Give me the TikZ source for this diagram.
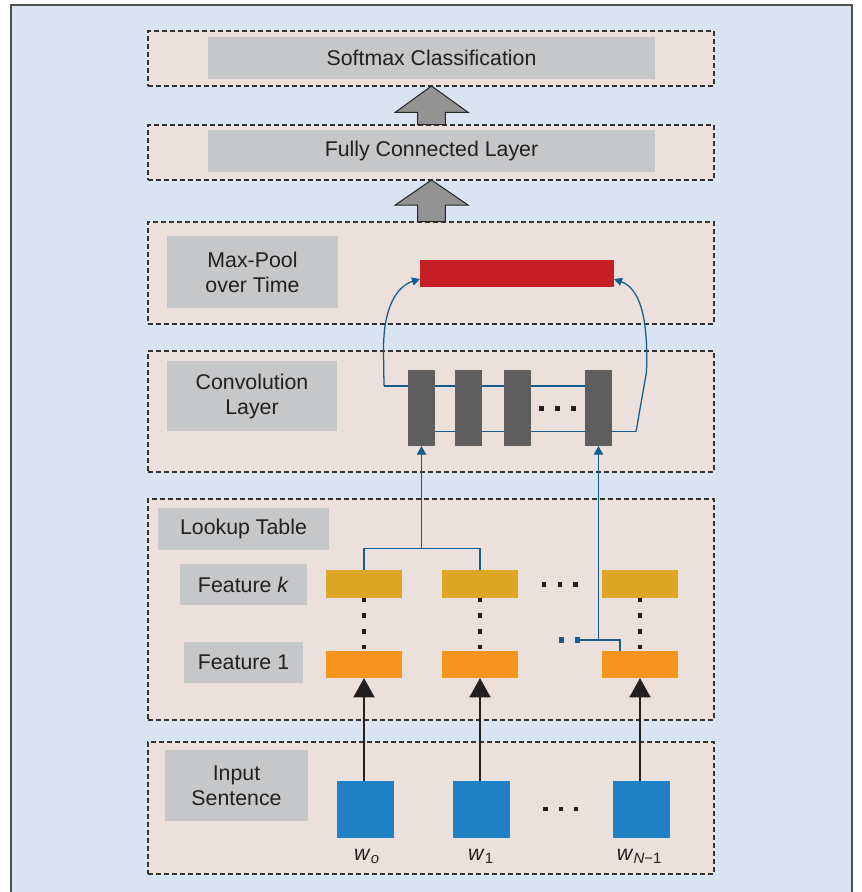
\documentclass[tikz,border=0pt]{standalone}
\usepackage{fontspec}
\setmainfont{Liberation Sans}
\usetikzlibrary{arrows.meta,calc}
\definecolor{bgblue}{HTML}{DAE3F1}
\definecolor{panel}{HTML}{EBE0DB}
\definecolor{lbl}{HTML}{C6C7C9}
\definecolor{redbar}{HTML}{C61E25}
\definecolor{convbar}{HTML}{5E5E5E}
\definecolor{featk}{HTML}{DDA726}
\definecolor{featone}{HTML}{F7941E}
\definecolor{wordsq}{HTML}{1F80C3}
\definecolor{conn}{HTML}{165B8C}
\definecolor{txt}{HTML}{231F20}
\definecolor{bigarrow}{HTML}{939393}
\definecolor{framec}{HTML}{505050}
\tikzset{
  base/.style={rectangle,inner sep=0pt,outer sep=0pt},
  panelbox/.style={base,draw=black!80,fill=panel,dash pattern=on 3.75pt off 2.25pt,line width=0.8pt},
  labelbox/.style={base,fill=lbl,text=txt,font=\fontsize{16}{18.75}\selectfont,align=center},
  redbox/.style={base,fill=redbar},
  convbox/.style={base,fill=convbar},
  fkbox/.style={base,fill=featk},
  fonebox/.style={base,fill=featone},
  wordbox/.style={base,fill=wordsq},
  sqdot/.style={base,fill=txt,minimum size=3.6pt},
  bluedot/.style={base,fill=conn,minimum size=3.8pt},
  wlabel/.style={inner sep=0pt,text=txt,font=\fontsize{16}{18}\selectfont,anchor=base},
  bl/.style={draw=conn,line width=0.95pt},
  blarrow/.style={bl,-{Triangle[width=7pt,length=6.5pt]}},
  curvearrow/.style={bl,-{Triangle[width=6pt,length=6pt]}},
  blackarrow/.style={draw=txt,line width=2.2pt,-{Triangle[width=15.5pt,length=14.5pt]}},
  featdots/.style={draw=txt,line width=3.4pt,dash pattern=on 3.4pt off 8.45pt},
  bigarr/.style={fill=bigarrow,draw=black!85,line width=0.75pt,line join=miter},
}
\newcommand\mkbox[7]{\node[#6,minimum width={(#4-#2)*0.75pt},minimum height={(#5-#3)*0.75pt}] (#1) at ({(#2+#4)/2},{(#3+#5)/2}) {#7};}
\begin{document}
\begin{tikzpicture}[x=0.75pt,y=-0.75pt]
\useasboundingbox (0,0) rectangle (862,892);
\fill[white] (0,0) rectangle (862,892);
\fill[bgblue] (11,5) rectangle (852,900);
\draw[framec,line width=1.5pt] (11,900) -- (11,5) -- (852,5) -- (852,900);

% panels
\mkbox{P1}{148}{31}{714}{86}{panelbox}{}
\mkbox{P2}{148}{125}{714}{180}{panelbox}{}
\mkbox{P3}{148}{222}{714}{324}{panelbox}{}
\mkbox{P4}{148}{351}{714}{472}{panelbox}{}
\mkbox{P5}{148}{499}{714}{720}{panelbox}{}
\mkbox{P6}{148}{742}{714}{874}{panelbox}{}

% big arrows
\draw[bigarr,shift={(P1.south)}] (0.5,0) -- (37,26.3) -- (14.4,26.3) -- (14.4,38.6) -- (-13.5,38.6) -- (-13.5,26.3) -- (-35.7,26.3) -- cycle;
\draw[bigarr,shift={(P2.south)}] (0.5,0) -- (37,25) -- (14.4,25) -- (14.4,41.6) -- (-13.5,41.6) -- (-13.5,25) -- (-35.7,25) -- cycle;

% labels
\mkbox{Lsoft}{208}{37}{655}{79}{labelbox}{Softmax Classification}
\mkbox{Lfc}{208}{130}{655}{172}{labelbox}{Fully Connected Layer}
\mkbox{Lmax}{167}{236}{338}{308}{labelbox}{Max-Pool\\over Time}
\mkbox{Lconv}{167}{361}{337}{431}{labelbox}{Convolution\\Layer}
\mkbox{Llook}{158}{508}{329}{550}{labelbox}{Lookup Table}
\mkbox{Lfk}{180}{564}{307}{605}{labelbox}{Feature \textit{k}}
\mkbox{Lf1}{184}{642}{303}{683}{labelbox}{Feature 1}
\mkbox{Lin}{165}{750}{308}{821}{labelbox}{Input\\Sentence}

% max pool bar
\mkbox{red}{420}{260}{614}{287}{redbox}{}

% convolution connector lines (behind bars)
\coordinate (tl) at (384,386);
\coordinate (br) at (636,431.7);
\mkbox{c1}{408}{370}{435}{446}{convbox}{}
\mkbox{c2}{455}{370}{482}{446}{convbox}{}
\mkbox{c3}{504}{370}{531}{446}{convbox}{}
\mkbox{c4}{585}{370}{612}{446}{convbox}{}
\begin{scope}[on background layer/.style={}]
\end{scope}
\draw[bl] (tl) -- (tl -| c1.west);
\draw[bl] (tl -| c1.east) -- (tl -| c2.west);
\draw[bl] (tl -| c2.east) -- (tl -| c3.west);
\draw[bl] (tl -| c3.east) -- (tl -| c4.west);
\draw[bl] (br -| c1.east) -- (br -| c2.west);
\draw[bl] (br -| c2.east) -- (br -| c3.west);
\draw[bl] (br -| c3.east) -- (br -| c4.west);
\draw[bl] (br -| c4.east) -- (br);
\foreach \i/\x in {1/541.3,2/557.3,3/573.3} \node[sqdot] (cd\i) at (\x,408.7) {};

% curved arrows to max pool
\draw[curvearrow] (tl) -- (383.5,352) .. controls (383,305) and (398,286) .. ([yshift=6pt]red.south west);
\draw[curvearrow] (br) -- (646.5,372) .. controls (648.5,312) and (638,288) .. ([yshift=6pt]red.south east);

% lookup table boxes
\mkbox{yk1}{326}{570}{402}{597.5}{fkbox}{}
\mkbox{yk2}{442}{570}{518}{597.5}{fkbox}{}
\mkbox{yk3}{602}{570}{678}{597.5}{fkbox}{}
\mkbox{yo1}{326}{651}{402}{678}{fonebox}{}
\mkbox{yo2}{442}{651}{518}{678}{fonebox}{}
\mkbox{yo3}{602}{651}{678}{678}{fonebox}{}
\draw[featdots] (yk1.south) -- (yo1.north);
\draw[featdots] (yk2.south) -- (yo2.north);
\draw[featdots] (yk3.south) -- (yo3.north);
\foreach \i/\x in {1/544,2/560,3/575.7} \node[sqdot] (fd\i) at (\x,584.3) {};

% blue connectors lookup -> convolution
\coordinate (bt) at (421.5,548.7);
\draw[bl] (yk1.north) |- (bt) -| (yk2.north);
\draw[blarrow] (c1.south |- bt) -- (c1.south);
\node[bluedot] (bd1) at (561.3,640) {};
\node[bluedot] (bd2) at (577.3,640) {};
\coordinate (jr) at (620,640);
\draw[bl] (bd2.center) -- (jr) -- (jr |- yo3.north);
\draw[blarrow] (c4.south |- jr) -- (c4.south);

% input words
\mkbox{w0}{337}{781}{394}{838}{wordbox}{}
\mkbox{w1}{453}{781}{510}{838}{wordbox}{}
\mkbox{w2}{613}{781}{670}{838}{wordbox}{}
\foreach \i/\x in {1/545.8,2/561,3/576} \node[sqdot] (wd\i) at (\x,809) {};
\draw[blackarrow] (w0.north -| yo1.south) -- (yo1.south);
\draw[blackarrow] (w1.north -| yo2.south) -- (yo2.south);
\draw[blackarrow] (w2.north -| yo3.south) -- (yo3.south);
\node[wlabel] (lw0) at (367,860) {\textit{w}\textsubscript{\textit{o}}};
\node[wlabel] (lw1) at (481,860) {\textit{w}\textsubscript{1}};
\node[wlabel] (lw2) at (639.5,860) {\textit{w}\textsubscript{\textit{N}−1}};
\end{tikzpicture}
\end{document}
